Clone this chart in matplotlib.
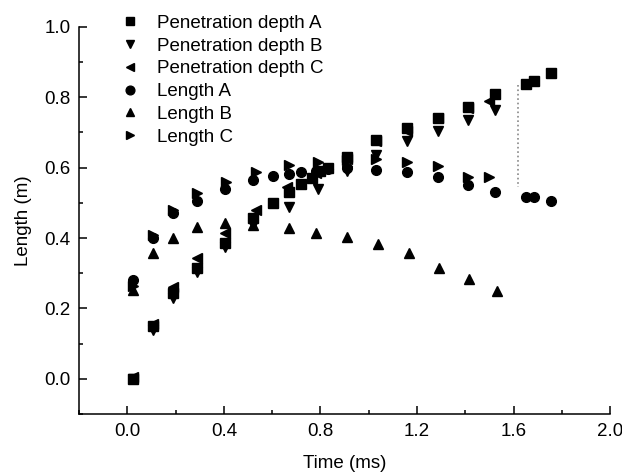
import numpy as np
import matplotlib
matplotlib.use("Agg")
import matplotlib.pyplot as plt
from matplotlib.ticker import MultipleLocator

plt.rcParams['font.family'] = ['Liberation Sans', 'DejaVu Sans']

# Penetration depth A (squares)
t_pa = [0.025, 0.105, 0.19, 0.29, 0.405, 0.52, 0.605, 0.67, 0.72, 0.765, 0.80, 0.83,
        0.91, 1.03, 1.16, 1.285, 1.41, 1.525, 1.65, 1.685, 1.755]
pa = [0.0, 0.15, 0.245, 0.314, 0.386, 0.456, 0.50, 0.53, 0.552, 0.57, 0.59, 0.60,
      0.63, 0.677, 0.711, 0.742, 0.771, 0.81, 0.838, 0.847, 0.867]

# Penetration depth B (down triangles)
t_pb = [0.025, 0.105, 0.19, 0.29, 0.405, 0.52, 0.67, 0.79, 0.91, 1.03, 1.16, 1.285, 1.41, 1.525]
pb = [0.0, 0.14, 0.23, 0.303, 0.375, 0.436, 0.487, 0.538, 0.59, 0.635, 0.674, 0.705, 0.734, 0.762]

# Penetration depth C (left triangles)
t_pc = [0.025, 0.105, 0.19, 0.29, 0.405, 0.535, 0.66, 0.78, 0.91, 1.03, 1.16, 1.285, 1.41, 1.50]
pc = [0.005, 0.155, 0.26, 0.343, 0.414, 0.48, 0.544, 0.585, 0.625, 0.674, 0.705, 0.742, 0.768, 0.79]

# Length A (circles)
t_la = [0.025, 0.105, 0.19, 0.29, 0.405, 0.52, 0.605, 0.67, 0.72, 0.78, 0.83, 0.91,
        1.03, 1.16, 1.285, 1.41, 1.525, 1.65, 1.685, 1.755]
la = [0.28, 0.40, 0.47, 0.504, 0.538, 0.564, 0.575, 0.583, 0.586, 0.59, 0.595, 0.598,
      0.592, 0.587, 0.572, 0.55, 0.53, 0.516, 0.516, 0.504]

# Length B (up triangles)
t_lb = [0.025, 0.105, 0.19, 0.29, 0.405, 0.52, 0.67, 0.78, 0.91, 1.04, 1.166, 1.29, 1.415, 1.53]
lb = [0.252, 0.357, 0.40, 0.43, 0.442, 0.436, 0.428, 0.414, 0.402, 0.382, 0.357, 0.315, 0.283, 0.25]

# Length C (right triangles)
t_lc = [0.025, 0.105, 0.19, 0.29, 0.41, 0.535, 0.67, 0.79, 0.91, 1.03, 1.16, 1.285, 1.41, 1.50]
lc = [0.265, 0.408, 0.48, 0.527, 0.558, 0.586, 0.608, 0.615, 0.62, 0.625, 0.615, 0.603, 0.572, 0.572]

# dotted gap marker
t_gap = [1.62, 1.62]
y_gap = [0.835, 0.545]


def main():
    fig = plt.figure(figsize=(6.22, 4.75), dpi=100)
    ax = fig.add_axes([0.127, 0.128, 0.854, 0.816])

    ms = 7
    series = [
        (t_pa, pa, 's', 'Penetration depth A'),
        (t_pb, pb, 'v', 'Penetration depth B'),
        (t_pc, pc, '<', 'Penetration depth C'),
        (t_la, la, 'o', 'Length A'),
        (t_lb, lb, '^', 'Length B'),
        (t_lc, lc, '>', 'Length C'),
    ]
    for t, y, m, lab in series:
        ax.plot(t, y, linestyle='none', marker=m, color='black', markersize=ms, label=lab)

    ax.plot(t_gap, y_gap, linestyle=':', color='#888888', linewidth=1.2)

    ax.set_xlim(-0.2, 2.0)
    ax.set_ylim(-0.1, 1.0)
    ax.xaxis.set_major_locator(MultipleLocator(0.4))
    ax.xaxis.set_minor_locator(MultipleLocator(0.2))
    ax.yaxis.set_major_locator(MultipleLocator(0.2))
    ax.yaxis.set_minor_locator(MultipleLocator(0.1))

    for s in ['top', 'right']:
        ax.spines[s].set_visible(False)
    for s in ['left', 'bottom']:
        ax.spines[s].set_linewidth(1.1)

    ax.tick_params(which='major', direction='in', length=6, width=1.1, labelsize=13.5, pad=6)
    ax.tick_params(which='minor', direction='in', length=3, width=1.1)

    ax.set_xlabel('Time (ms)', fontsize=13.5, labelpad=11)
    ax.set_ylabel('Length (m)', fontsize=13.5, labelpad=9)

    ax.legend(loc='upper left', bbox_to_anchor=(0.065, 1.05), frameon=False,
              fontsize=13.5, handlelength=1.0, handletextpad=0.9,
              labelspacing=0.3, borderaxespad=0, markerscale=0.9)

    fig.savefig('out.png', dpi=100)


if __name__ == '__main__':
    main()
